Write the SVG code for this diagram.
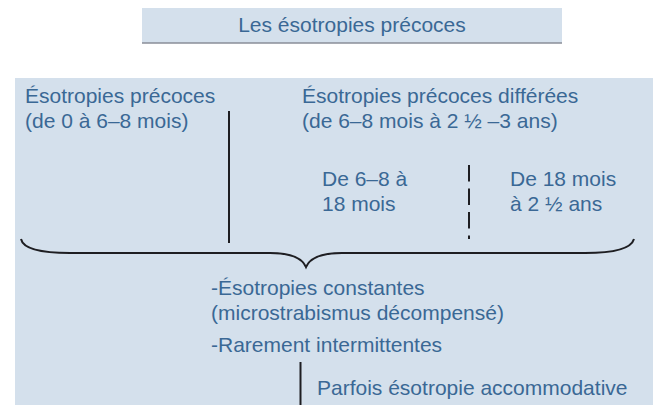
<svg xmlns="http://www.w3.org/2000/svg" width="653" height="405" viewBox="0 0 653 405">
<style>
.t{font-family:"Liberation Sans",Arial,sans-serif;font-size:21px;fill:#3a6895}
.bg{fill:#d4e0ec}
.ln{stroke:#1e1e22;stroke-width:2;fill:none}
</style>
<rect width="653" height="405" fill="#ffffff"/>
<g id="title">
<rect class="bg" x="142" y="8" width="420" height="35"/>
<line x1="142" y1="43" x2="562" y2="43" stroke="#8a8e98" stroke-width="1.5"/>
<text class="t" x="352" y="32" text-anchor="middle">Les ésotropies précoces</text>
</g>
<rect class="bg" x="15" y="78" width="638" height="327"/>
<g id="early">
<text class="t" x="25" y="103">Ésotropies précoces</text>
<text class="t" x="25" y="128">(de 0 à 6–8 mois)</text>
</g>
<g id="deferred">
<text class="t" x="302" y="103">Ésotropies précoces différées</text>
<text class="t" x="302" y="128">(de 6–8 mois à 2 ½ –3 ans)</text>
</g>
<g id="sub1">
<text class="t" x="322" y="186">De 6–8 à</text>
<text class="t" x="322" y="211">18 mois</text>
</g>
<g id="sub2">
<text class="t" x="510" y="186">De 18 mois</text>
<text class="t" x="510" y="211">à 2 ½ ans</text>
</g>
<g id="result">
<text class="t" x="211" y="295">-Ésotropies constantes</text>
<text class="t" x="211" y="320">(microstrabismus décompensé)</text>
<text class="t" x="211" y="352">-Rarement intermittentes</text>
</g>
<g id="accommodative">
<text class="t" x="317" y="395">Parfois ésotropie accommodative</text>
</g>
<g id="connectors">
<line class="ln" x1="229" y1="111" x2="229" y2="243"/>
<line class="ln" x1="469" y1="165" x2="469" y2="239" stroke-dasharray="16.5 7"/>
<path class="ln" stroke-width="1.8" d="M21 239 Q24 253 70 253 L270 253 Q300 253 306 267 Q312 253 342 253 L585 253 Q630 253 634 239"/>
<line class="ln" x1="300.5" y1="362" x2="300.5" y2="405"/>
</g>
</svg>
